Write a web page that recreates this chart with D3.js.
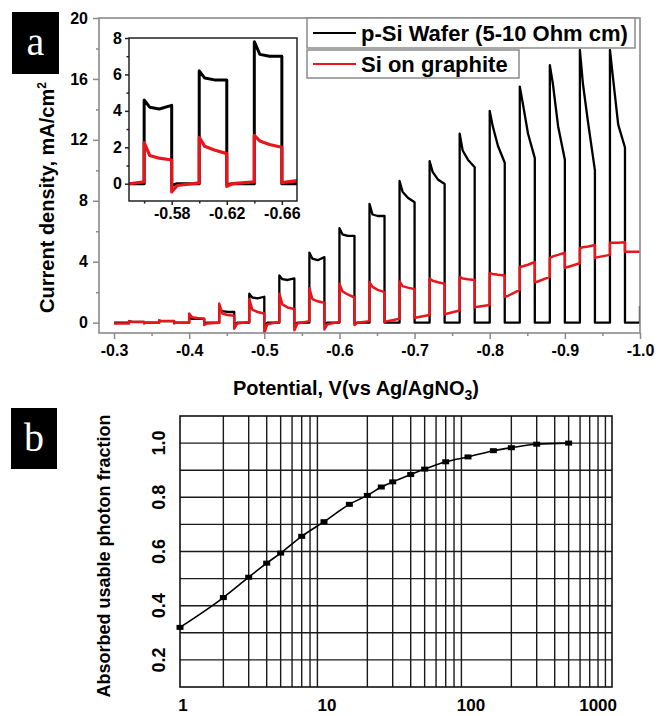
<!DOCTYPE html>
<html>
<head>
<meta charset="utf-8">
<script src="https://cdn.jsdelivr.net/npm/d3@7"></script>
<style>
  html, body { margin: 0; padding: 0; background: #fff; }
  svg { display: block; }
  text { font-family: "Liberation Sans", Arial, sans-serif; font-weight: bold; fill: #000; }
</style>
</head>
<body>
<svg id="fig" width="658" height="716"></svg>
<script>
// ---------- Panel a: chopped-light photocurrent scan ----------
// Light switched on / off (V vs Ag/AgNO3)
const lightOn  = [-0.32, -0.36, -0.40, -0.44, -0.48, -0.52, -0.56, -0.60, -0.64, -0.68, -0.72, -0.76, -0.80, -0.84, -0.88, -0.92, -0.96];
const lightOff = [-0.34, -0.38, -0.42, -0.46, -0.50, -0.54, -0.58, -0.62, -0.66, -0.70, -0.74, -0.78, -0.82, -0.86, -0.90, -0.94, -0.98];
const scanStart = -0.30, scanEnd = -1.00;

// p-Si wafer (mA/cm2): spike, early, mid and end of each illuminated step
const waferPeak  = [0.10, 0.12, 0.30, 0.90, 1.90, 3.10, 4.60, 6.20, 7.80, 9.30, 10.6, 12.4, 13.9, 15.5, 16.9, 17.9, 17.9];
const waferEarly = [0.05, 0.10, 0.25, 0.75, 1.65, 2.85, 4.20, 5.80, 7.10, 8.60, 9.90, 11.3, 12.9, 14.4, 15.7, 15.7, 16.1];
const waferMid   = [0.05, 0.10, 0.25, 0.70, 1.60, 2.80, 4.10, 5.70, 7.00, 8.20, 9.40, 10.7, 11.6, 12.4, 12.9, 13.1, 13.0];
const waferEnd   = [0.05, 0.10, 0.25, 0.70, 1.70, 2.90, 4.30, 5.70, 7.00, 7.90, 9.10, 10.2, 10.5, 10.8, 10.7, 10.0, 11.5];
// p-Si wafer dark current after each step: dip, settled, level before next step
const waferDip    = [0.00, 0.00, -0.05, -0.15, -0.25, -0.20, -0.10, -0.05, 0.00, 0.00, 0.00, 0.00, 0.00, 0.00, 0.00, 0.00, 0.00];
const waferSettle = [0.00, 0.00, 0.00, 0.00, 0.00, 0.00, 0.00, 0.00, 0.00, 0.00, 0.00, 0.00, 0.00, 0.00, 0.00, 0.00, 0.00];
const waferDark   = [0.00, 0.00, 0.00, 0.00, 0.00, 0.00, 0.00, 0.00, 0.00, 0.00, 0.00, 0.00, 0.00, 0.00, 0.00, 0.00, 0.00];
const waferInitial = 0.00, waferFinal = 1.10;

// Si on graphite (mA/cm2)
const siPeak  = [0.10, 0.15, 0.60, 1.25, 1.55, 1.90, 2.25, 2.55, 2.65, 2.70, 2.90, 3.00, 3.25, 3.65, 4.25, 4.90, 5.25];
const siEarly = [0.05, 0.10, 0.35, 0.60, 0.85, 1.20, 1.55, 2.05, 2.35, 2.40, 2.75, 2.90, 3.20, 3.70, 4.35, 4.95, 5.25];
const siMid   = [0.05, 0.10, 0.30, 0.50, 0.70, 1.00, 1.40, 1.85, 2.15, 2.30, 2.65, 2.85, 3.15, 3.80, 4.45, 5.00, 5.25];
const siEnd   = [0.05, 0.10, 0.25, 0.45, 0.60, 0.90, 1.30, 1.65, 2.00, 2.20, 2.55, 2.80, 3.10, 3.98, 4.60, 5.10, 5.27];
const siDip    = [-0.05, -0.05, -0.15, -0.40, -0.70, -0.50, -0.45, -0.15, 0.05, 0.30, 0.55, 1.00, 1.70, 2.65, 3.60, 4.25, 4.65];
const siSettle = [0.00, 0.00, -0.05, -0.05, -0.10, -0.05, -0.10, 0.00, 0.10, 0.35, 0.60, 1.05, 1.75, 2.70, 3.65, 4.30, 4.65];
const siDark   = [0.00, 0.00, 0.00, 0.05, 0.05, 0.10, 0.05, 0.10, 0.25, 0.50, 0.80, 1.16, 2.15, 3.00, 3.90, 4.45, 4.65];
const siInitial = -0.05, siFinal = 4.65;

const legendLabels = ["p-Si Wafer (5-10 Ohm cm)", "Si on graphite"];
const seriesColors = ["#000000", "#e8161b"];

const mainXTicks = [-0.3, -0.4, -0.5, -0.6, -0.7, -0.8, -0.9, -1.0];
const mainXMinor = [-0.35, -0.45, -0.55, -0.65, -0.75, -0.85, -0.95];
const mainYTicks = [0, 4, 8, 12, 16, 20];
const mainYMinor = [2, 6, 10, 14, 18];
const insetXTicks = [-0.58, -0.62, -0.66];
const insetXMinor = [-0.56, -0.60, -0.64];
const insetYTicks = [0, 2, 4, 6, 8];
const insetYMinor = [1, 3, 5, 7];

// ---------- Panel b: absorbed usable photon fraction ----------
const thickness = [1, 2, 3, 4, 5, 7, 10, 15, 20, 25, 30, 40, 50, 70, 100, 150, 200, 300, 500];
const fraction  = [0.32, 0.43, 0.505, 0.557, 0.594, 0.656, 0.71, 0.774, 0.807, 0.838, 0.857, 0.884, 0.904, 0.931, 0.949, 0.972, 0.983, 0.996, 1.0];
const bXTicks = [1, 10, 100, 1000];
const bYTicks = [0.2, 0.4, 0.6, 0.8, 1.0];
const bYGrid  = [0.2, 0.3, 0.4, 0.5, 0.6, 0.7, 0.8, 0.9, 1.0];

// Step offsets (V past switch-on) at which early / mid values are sampled
const earlyOffset = 0.004, midOffset = 0.011, settleOffset = 0.004;

function stepSeries(initial, peak, early, mid, end, dip, settle, dark, final) {
  const pts = [[scanStart, initial]];
  let level = initial;
  lightOn.forEach((on, i) => {
    pts.push([on, level]);
    pts.push([on, peak[i]]);
    pts.push([on - earlyOffset, early[i]]);
    pts.push([on - midOffset, mid[i]]);
    pts.push([lightOff[i], end[i]]);
    pts.push([lightOff[i], dip[i]]);
    pts.push([lightOff[i] - settleOffset, settle[i]]);
    const next = i + 1 < lightOn.length ? lightOn[i + 1] : scanEnd;
    pts.push([next, dark[i]]);
    level = dark[i];
  });
  pts.push([scanEnd, final]);
  return pts;
}

const waferPts = stepSeries(waferInitial, waferPeak, waferEarly, waferMid, waferEnd, waferDip, waferSettle, waferDark, waferFinal);
const siPts = stepSeries(siInitial, siPeak, siEarly, siMid, siEnd, siDip, siSettle, siDark, siFinal);

const svg = d3.select("#fig");
const frameGray = "#8a8a8a";

// ----- main plot -----
const A = { l: 99, r: 640, t: 18, b: 333 };
const x = d3.scaleLinear().domain([-0.28, -1.0]).range([A.l, A.r]);
const y = d3.scaleLinear().domain([-0.68, 20]).range([A.b, A.t]);

const gA = svg.append("g");
const defs = svg.append("defs");
defs.append("clipPath").attr("id", "clipA").append("rect")
  .attr("x", A.l).attr("y", A.t).attr("width", A.r - A.l).attr("height", A.b - A.t);

const line = d3.line().x(d => x(d[0])).y(d => y(d[1]));
const gData = gA.append("g").attr("clip-path", "url(#clipA)");
gData.append("path").datum(waferPts).attr("d", line)
  .attr("fill", "none").attr("stroke", seriesColors[0]).attr("stroke-width", 2.3).attr("stroke-linejoin", "round");
gData.append("path").datum(siPts).attr("d", line)
  .attr("fill", "none").attr("stroke", seriesColors[1]).attr("stroke-width", 2.5).attr("stroke-linejoin", "round");

// frame
gA.append("rect").attr("x", A.l).attr("y", A.t).attr("width", A.r - A.l).attr("height", A.b - A.t)
  .attr("fill", "none").attr("stroke", frameGray).attr("stroke-width", 1.6);

function styleAxis(g, color) {
  g.select(".domain").remove();
  g.selectAll(".tick line").attr("stroke", color).attr("stroke-width", 1.5);
}

const xAxis = gA.append("g").attr("transform", `translate(0,${A.b})`)
  .call(d3.axisBottom(x).tickValues(mainXTicks).tickFormat(d => d.toFixed(1)).tickSize(6).tickPadding(6));
styleAxis(xAxis, frameGray);
xAxis.selectAll("text").style("font-size", "16px").style("font-family", "Liberation Sans, Arial, sans-serif").style("font-weight", "bold");
const xMinor = gA.append("g").attr("transform", `translate(0,${A.b})`)
  .call(d3.axisBottom(x).tickValues(mainXMinor).tickFormat("").tickSize(3));
styleAxis(xMinor, frameGray);

const yAxis = gA.append("g").attr("transform", `translate(${A.l},0)`)
  .call(d3.axisLeft(y).tickValues(mainYTicks).tickFormat(d3.format("d")).tickSize(6).tickPadding(5));
styleAxis(yAxis, frameGray);
yAxis.selectAll("text").style("font-size", "16px").style("font-family", "Liberation Sans, Arial, sans-serif").style("font-weight", "bold");
const yMinor = gA.append("g").attr("transform", `translate(${A.l},0)`)
  .call(d3.axisLeft(y).tickValues(mainYMinor).tickFormat("").tickSize(3));
styleAxis(yMinor, frameGray);

// axis titles
const yTitle = gA.append("text").attr("transform", `translate(54,${(A.t + A.b) / 2 + 22}) rotate(-90)`)
  .attr("text-anchor", "middle").style("font-size", "20px");
yTitle.append("tspan").text("Current density, mA/cm");
yTitle.append("tspan").attr("dy", -8).style("font-size", "12px").text("2");

const xTitle = gA.append("text").attr("x", 356).attr("y", 395)
  .attr("text-anchor", "middle").style("font-size", "20px");
xTitle.append("tspan").text("Potential, V(vs Ag/AgNO");
xTitle.append("tspan").attr("dy", 5).style("font-size", "14px").text("3");
xTitle.append("tspan").attr("dy", -5).text(")");

// legend
const legendRows = [
  { x0: 307, x1: 635, y0: 18, y1: 48 },
  { x0: 307, x1: 519, y0: 50, y1: 78 }
];
legendLabels.forEach((lab, i) => {
  const r = legendRows[i];
  gA.append("rect").attr("x", r.x0).attr("y", r.y0).attr("width", r.x1 - r.x0).attr("height", r.y1 - r.y0)
    .attr("fill", "#fff").attr("stroke", frameGray).attr("stroke-width", 1.5);
  const cy = (r.y0 + r.y1) / 2;
  gA.append("line").attr("x1", 313).attr("x2", 356).attr("y1", cy).attr("y2", cy)
    .attr("stroke", seriesColors[i]).attr("stroke-width", 2.2);
  gA.append("text").attr("x", 361).attr("y", cy + 8).style("font-size", "22px").text(lab);
});

// ----- inset -----
const I = { l: 129, r: 297, t: 38, b: 201 };
const xi = d3.scaleLinear().domain([-0.549, -0.671]).range([I.l, I.r]);
const yi = d3.scaleLinear().domain([-0.95, 8]).range([I.b, I.t]);
const gI = svg.append("g");
gI.append("rect").attr("x", I.l).attr("y", I.t).attr("width", I.r - I.l).attr("height", I.b - I.t).attr("fill", "#fff");
defs.append("clipPath").attr("id", "clipI").append("rect")
  .attr("x", I.l).attr("y", I.t).attr("width", I.r - I.l).attr("height", I.b - I.t);
const lineI = d3.line().x(d => xi(d[0])).y(d => yi(d[1]));
const gID = gI.append("g").attr("clip-path", "url(#clipI)");
gID.append("path").datum(waferPts).attr("d", lineI)
  .attr("fill", "none").attr("stroke", seriesColors[0]).attr("stroke-width", 3).attr("stroke-linejoin", "round");
gID.append("path").datum(siPts).attr("d", lineI)
  .attr("fill", "none").attr("stroke", seriesColors[1]).attr("stroke-width", 3.2).attr("stroke-linejoin", "round");
gI.append("rect").attr("x", I.l).attr("y", I.t).attr("width", I.r - I.l).attr("height", I.b - I.t)
  .attr("fill", "none").attr("stroke", "#222").attr("stroke-width", 1.5);

const xiAxis = gI.append("g").attr("transform", `translate(0,${I.b})`)
  .call(d3.axisBottom(xi).tickValues(insetXTicks).tickFormat(d => d.toFixed(2)).tickSize(4).tickPadding(3));
styleAxis(xiAxis, "#222");
xiAxis.selectAll("text").style("font-size", "16px").style("font-family", "Liberation Sans, Arial, sans-serif").style("font-weight", "bold");
styleAxis(gI.append("g").attr("transform", `translate(0,${I.b})`)
  .call(d3.axisBottom(xi).tickValues(insetXMinor).tickFormat("").tickSize(2.5)), "#222");
const yiAxis = gI.append("g").attr("transform", `translate(${I.l},0)`)
  .call(d3.axisLeft(yi).tickValues(insetYTicks).tickFormat(d3.format("d")).tickSize(4).tickPadding(3));
styleAxis(yiAxis, "#222");
yiAxis.selectAll("text").style("font-size", "16px").style("font-family", "Liberation Sans, Arial, sans-serif").style("font-weight", "bold");
styleAxis(gI.append("g").attr("transform", `translate(${I.l},0)`)
  .call(d3.axisLeft(yi).tickValues(insetYMinor).tickFormat("").tickSize(2.5)), "#222");

// ----- panel b -----
const B = { l: 180, r: 612, t: 416, b: 687 };
const xb = d3.scaleLog().domain([1, 1000]).range([B.l, B.r]);
const yb = d3.scaleLinear().domain([0.1, 1.1]).range([B.b, B.t]);
const gB = svg.append("g");

const vGrid = [];
[1, 10, 100].forEach(dec => { for (let k = 2; k <= 9; k++) vGrid.push(dec * k); });
gB.selectAll("line.v").data(vGrid).join("line").attr("class", "v")
  .attr("x1", d => xb(d)).attr("x2", d => xb(d)).attr("y1", B.t).attr("y2", B.b)
  .attr("stroke", "#1a1a1a").attr("stroke-width", 1.4);
gB.selectAll("line.h").data(bYGrid).join("line").attr("class", "h")
  .attr("x1", B.l).attr("x2", B.r).attr("y1", d => yb(d)).attr("y2", d => yb(d))
  .attr("stroke", "#1a1a1a").attr("stroke-width", 1.4);
gB.append("rect").attr("x", B.l).attr("y", B.t).attr("width", B.r - B.l).attr("height", B.b - B.t)
  .attr("fill", "none").attr("stroke", "#111").attr("stroke-width", 1.6);

const bPts = thickness.map((t, i) => [t, fraction[i]]);
gB.append("path").datum(bPts)
  .attr("d", d3.line().x(d => xb(d[0])).y(d => yb(d[1])).curve(d3.curveMonotoneX))
  .attr("fill", "none").attr("stroke", "#000").attr("stroke-width", 1.6);
gB.selectAll("rect.pt").data(bPts).join("rect").attr("class", "pt")
  .attr("x", d => xb(d[0]) - 3.5).attr("y", d => yb(d[1]) - 2.5).attr("width", 7).attr("height", 5)
  .attr("fill", "#000");

// tick labels
gB.selectAll("text.xt").data(bXTicks).join("text").attr("class", "xt")
  .attr("x", (d, i) => i === bXTicks.length - 1 ? xb(d) + 5 : xb(d) + 3)
  .attr("y", 711)
  .attr("text-anchor", (d, i) => i === bXTicks.length - 1 ? "end" : "middle")
  .style("font-size", "17px").text(d => d);
gB.selectAll("text.yt").data(bYTicks).join("text").attr("class", "yt")
  .attr("transform", d => `translate(165,${yb(d)}) rotate(-90)`)
  .attr("text-anchor", "middle").style("font-size", "18px").text(d => d.toFixed(1));
gB.append("text").attr("transform", `translate(110,556) rotate(-90)`)
  .attr("text-anchor", "middle").style("font-size", "18px").text("Absorbed usable photon fraction");

// ----- panel letters -----
const panels = [
  { letter: "a", x: 12, y: 12, w: 47, h: 62 },
  { letter: "b", x: 11, y: 408, w: 46, h: 61 }
];
panels.forEach(p => {
  svg.append("rect").attr("x", p.x).attr("y", p.y).attr("width", p.w).attr("height", p.h).attr("fill", "#000");
  svg.append("text").attr("x", p.x + p.w / 2).attr("y", p.y + p.h / 2 + 12)
    .attr("text-anchor", "middle")
    .style("font-family", "Liberation Serif, Times New Roman, serif").style("font-weight", "normal")
    .style("font-size", "40px").style("fill", "#fff").text(p.letter);
});
</script>
</body>
</html>
